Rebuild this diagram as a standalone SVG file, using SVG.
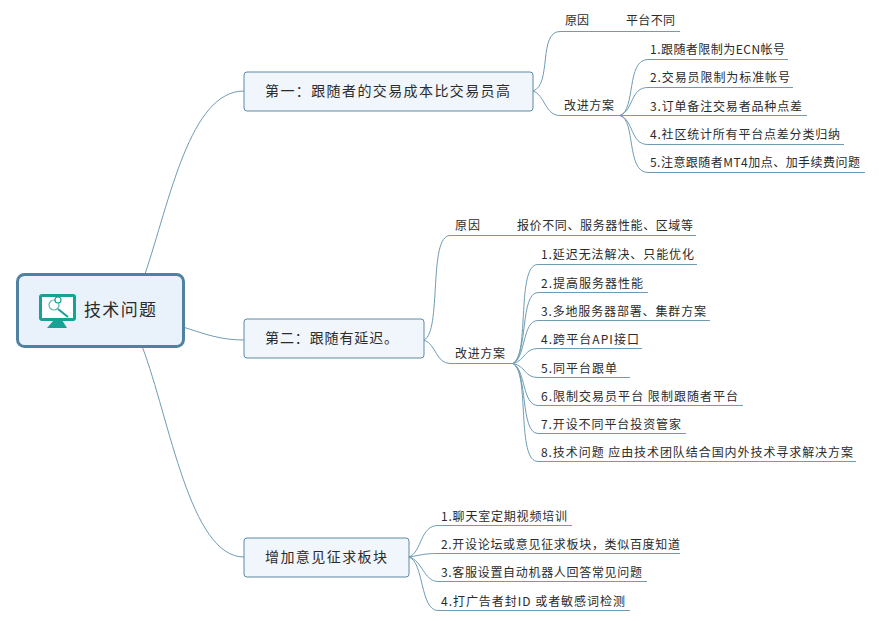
<svg xmlns="http://www.w3.org/2000/svg" width="879" height="621" viewBox="0 0 879 621">
<style>
text{font-family:"Noto Sans CJK SC","Noto Sans",sans-serif;fill:#2b2b2b}
.l{font-size:12px;transform:translateY(1px)}
.t{font-size:14px}
.r{font-size:17px}
.c path{fill:none;stroke:#6f9cb4;stroke-width:1}
.n{fill:#f0f6fc;stroke:#5d8aa5;stroke-width:1}
</style>
<rect width="879" height="621" fill="#fff"/>
<g class="c" id="connectors">
<path d="M145 274C170 200 190 91 244 91"/>
<path d="M183 327C205 334 220 340 244 340"/>
<path d="M142 346C170 420 190 557 244 557"/>
<path d="M533 91C552 85 538 31.500 560 31.500H680"/>
<path d="M533 91C545 95 545 115.500 560 115.500H620"/>
<path d="M620 115.500C636 110 626 59.500 648 59.500H788"/>
<path d="M620 115.500C634 110 630 87.500 648 87.500H793"/>
<path d="M620 115.500H807"/>
<path d="M620 115.500C634 120 630 144.500 648 144.500H844"/>
<path d="M620 115.500C636 120 626 172.500 648 172.500H865"/>
<path d="M424 340C442 332 428 235.500 450 235.500H696"/>
<path d="M424 340C436 344 436 363.500 450 363.500H513"/>
<path d="M513 363.500C530 355 516 264.500 538 264.500H697"/>
<path d="M513 363.500C528 355 520 292.500 538 292.500H648"/>
<path d="M513 363.500C526 358 522 320.500 538 320.500H710"/>
<path d="M513 363.500C526 360 524 348.500 538 348.500H642"/>
<path d="M513 363.500C526 366 524 377.500 538 377.500H630"/>
<path d="M513 363.500C526 370 522 405.500 538 405.500H743"/>
<path d="M513 363.500C528 372 520 433.500 538 433.500H686"/>
<path d="M513 363.500C530 372 516 461.500 538 461.500H856"/>
<path d="M409 557C422 552 420 525.500 438 525.500H572"/>
<path d="M409 557C422 555 424 553.500 438 553.500H680"/>
<path d="M409 557C422 560 424 581.500 438 581.500H647"/>
<path d="M409 557C424 562 420 610.500 438 610.500H630"/>
</g>
<g id="root">
<rect x="17.500" y="274.500" width="166" height="72" rx="7" fill="#e9f1fa" stroke="#4f82a0" stroke-width="3"/>
<g id="icon">
<rect x="40.500" y="295.500" width="34" height="24" rx="1.500" fill="#fff" stroke="#16a394" stroke-width="3"/>
<path d="M54 320H62L67 328H47Z" fill="#16a394"/>
<circle cx="54" cy="305" r="5" fill="#fff" stroke="#5fb5ac" stroke-width="1.200"/>
<circle cx="58" cy="300" r="3" fill="#fff" stroke="#16a394" stroke-width="1.200"/>
<path d="M58 309L68 317" stroke="#16a394" stroke-width="2"/>
</g>
<text class="r" x="84" y="316" textLength="72">技术问题</text>
</g>
<g id="t1"><rect class="n" x="244" y="72" width="289" height="39" rx="3"/><text class="t" x="265" y="96" textLength="245">第一：跟随者的交易成本比交易员高</text></g>
<g id="t2"><rect class="n" x="244" y="319" width="180" height="39" rx="3"/><text class="t" x="265" y="343" textLength="133">第二：跟随有延迟。</text></g>
<g id="t3"><rect class="n" x="244" y="538" width="165" height="39" rx="3"/><text class="t" x="265" y="562" textLength="122">增加意见征求板块</text></g>
<g id="a1"><text class="l" x="565" y="24">原因</text><text class="l" x="626" y="24" textLength="49">平台不同</text></g>
<g id="a2"><text class="l" x="564" y="109" textLength="50">改进方案</text></g>
<g id="a21"><text class="l" x="650" y="53" textLength="135">1.跟随者限制为ECN帐号</text></g>
<g id="a22"><text class="l" x="650" y="81" textLength="140">2.交易员限制为标准帐号</text></g>
<g id="a23"><text class="l" x="650" y="110" textLength="152">3.订单备注交易者品种点差</text></g>
<g id="a24"><text class="l" x="650" y="138" textLength="190">4.社区统计所有平台点差分类归纳</text></g>
<g id="a25"><text class="l" x="650" y="166" textLength="210">5.注意跟随者MT4加点、加手续费问题</text></g>
<g id="b1"><text class="l" x="455" y="229" textLength="25">原因</text><text class="l" x="517" y="229" textLength="176">报价不同、服务器性能、区域等</text></g>
<g id="b2"><text class="l" x="455" y="357" textLength="50">改进方案</text></g>
<g id="b21"><text class="l" x="541" y="258" textLength="153">1.延迟无法解决、只能优化</text></g>
<g id="b22"><text class="l" x="541" y="287" textLength="102">2.提高服务器性能</text></g>
<g id="b23"><text class="l" x="541" y="315" textLength="165">3.多地服务器部署、集群方案</text></g>
<g id="b24"><text class="l" x="541" y="343" textLength="98">4.跨平台API接口</text></g>
<g id="b25"><text class="l" x="541" y="372" textLength="76">5.同平台跟单</text></g>
<g id="b26"><text class="l" x="541" y="400" textLength="197">6.限制交易员平台 限制跟随者平台</text></g>
<g id="b27"><text class="l" x="541" y="428" textLength="140">7.开设不同平台投资管家</text></g>
<g id="b28"><text class="l" x="541" y="456" textLength="312">8.技术问题 应由技术团队结合国内外技术寻求解决方案</text></g>
<g id="c1"><text class="l" x="441" y="520" textLength="126">1.聊天室定期视频培训</text></g>
<g id="c2"><text class="l" x="441" y="548" textLength="239">2.开设论坛或意见征求板块，类似百度知道</text></g>
<g id="c3"><text class="l" x="441" y="576" textLength="201">3.客服设置自动机器人回答常见问题</text></g>
<g id="c4"><text class="l" x="441" y="605" textLength="184">4.打广告者封ID 或者敏感词检测</text></g>
</svg>
